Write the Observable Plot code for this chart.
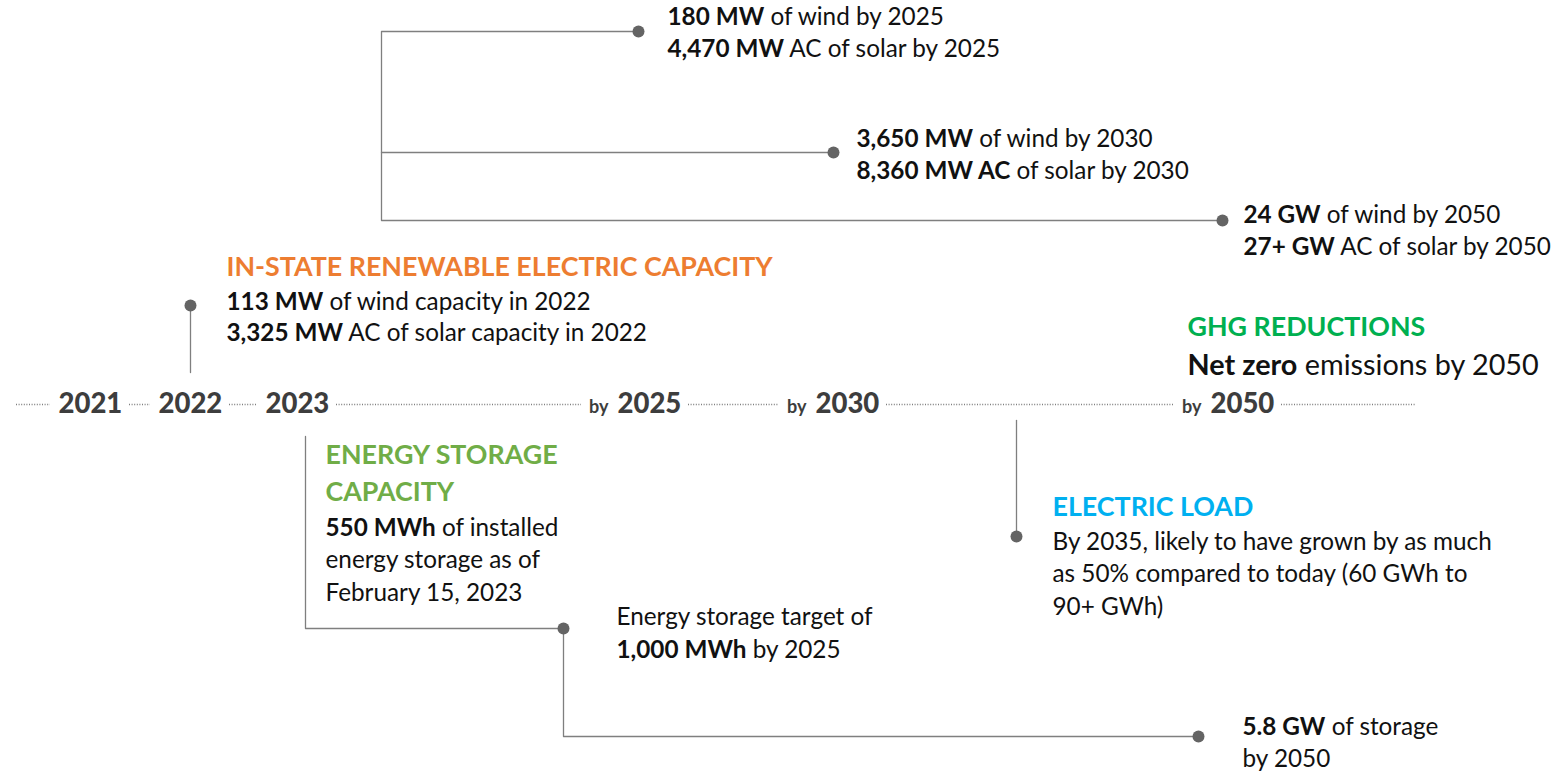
<!DOCTYPE html>
<html>
<head>
<meta charset="utf-8">
<script src="https://cdn.jsdelivr.net/npm/d3@7"></script>
<script src="https://cdn.jsdelivr.net/npm/@observablehq/plot@0.6"></script>
<style>
  html, body { margin: 0; padding: 0; background: #ffffff; }
  #chart { width: 1554px; height: 774px; }
</style>
</head>
<body>
<div id="chart"></div>
<script>
// ---------- content (data) ----------
// Timeline milestones
const years = ["2021", "2022", "2023", "2025", "2030", "2050"];
const yearPrefixes = ["", "", "", "by", "by", "by"];
const yearStarts = [58, 158, 265, 617, 815, 1210];   // position along the timeline (layout units)

// Section headings
const headingTexts = ["IN-STATE RENEWABLE ELECTRIC CAPACITY", "ENERGY STORAGE", "CAPACITY", "GHG REDUCTIONS", "ELECTRIC LOAD"];
const headingColors = ["#ED7D31", "#70AD47", "#70AD47", "#00B050", "#00B0F0"];
const headingX = [226, 325, 325, 1187, 1052];
const headingY = [267, 455, 492, 327, 507];

// Body lines (** marks bold runs)
const bodyTexts = [
  "**113 MW** of wind capacity in 2022",
  "**3,325 MW** AC of solar capacity in 2022",
  "**180 MW** of wind by 2025",
  "**4,470 MW** AC of solar by 2025",
  "**3,650 MW** of wind by 2030",
  "**8,360 MW AC** of solar by 2030",
  "**24 GW** of wind by 2050",
  "**27+ GW** AC of solar by 2050",
  "**550 MWh** of installed",
  "energy storage as of",
  "February 15, 2023",
  "Energy storage target of",
  "**1,000 MWh** by 2025",
  "**5.8 GW** of storage",
  "by 2050",
  "By 2035, likely to have grown by as much",
  "as 50% compared to today (60 GWh to",
  "90+ GWh)"
];
const bodyX = [226, 226, 667, 667, 856, 856, 1243, 1243, 325, 325, 325, 616, 616, 1242, 1242, 1052, 1052, 1052];
const bodyY = [302, 333, 17, 49, 139, 171, 215, 247, 528, 560, 593, 617, 650, 727, 759, 542, 574, 607];

const ghgText = "**Net zero** emissions by 2050";
const ghgX = 1187, ghgY = 365;

// Connector paths (milestone → callout), and the milestone dots at their ends
const connectorIds = ["wind2022", "cap2025", "cap2030", "stor2023", "stor2050", "load2035"];
const connectorXs = [[190, 190], [638, 381, 381, 1222], [381, 833], [305, 305, 563], [563, 563, 1198], [1016, 1016]];
const connectorYs = [[372, 305], [31, 31, 220, 220], [152, 152], [436, 628, 628], [628, 736, 736], [420, 536]];
const dotX = [190, 638, 833, 1222, 563, 1198, 1016];
const dotY = [305, 31, 152, 220, 628, 736, 536];

const timelineY = 404;
const timelineEnd = 1415;
const timelineStart = 16;

// ---------- build tables ----------
const yearLabels = years.map((t, i) => ({x: yearStarts[i], y: timelineY, t}));
const byLabels = years.map((t, i) => ({x: yearStarts[i] - 9, y: timelineY + 3, t: yearPrefixes[i]})).filter(d => d.t);
const yearW = 63, byW = 28, gap = 8;
const segs = [];
let prevEnd = timelineStart;
years.forEach((t, i) => {
  const start = yearStarts[i] - (yearPrefixes[i] ? byW : 0) - gap;
  segs.push({x1: prevEnd, x2: start, y: timelineY});
  prevEnd = yearStarts[i] + yearW + gap;
});
segs.push({x1: prevEnd, x2: timelineEnd, y: timelineY});

const headings = headingTexts.map((t, i) => ({t, c: headingColors[i], x: headingX[i], y: headingY[i]}));
const bodies = bodyTexts.map((t, i) => ({t, x: bodyX[i], y: bodyY[i]}));
const connectorPts = [];
connectorIds.forEach((id, k) => connectorXs[k].forEach((x, j) => connectorPts.push({id, x, y: connectorYs[k][j]})));
const dots = dotX.map((x, i) => ({x, y: dotY[i]}));

const FONT = "Lato, 'Open Sans', sans-serif";
const grey = "#7F7F7F";

const chart = Plot.plot({
  width: 1554,
  height: 774,
  margin: 0,
  x: {domain: [0, 1554], range: [0, 1554], axis: null},
  y: {domain: [0, 774], range: [0, 774], axis: null},
  color: {type: "identity"},
  style: {fontFamily: FONT, background: "#ffffff"},
  marks: [
    Plot.ruleY(segs, {x1: "x1", x2: "x2", y: "y", stroke: grey, strokeWidth: 1.5, strokeDasharray: "1,1.6"}),
    Plot.line(connectorPts, {x: "x", y: "y", z: "id", stroke: grey, strokeWidth: 1.3}),
    Plot.dot(dots, {x: "x", y: "y", r: 6, fill: "#646464", stroke: "none"}),
    Plot.text(yearLabels, {x: "x", y: "y", text: "t", textAnchor: "start", fontSize: 27.5, fontWeight: 900, fill: "#3d3d3d"}),
    Plot.text(byLabels, {x: "x", y: "y", text: "t", textAnchor: "end", fontSize: 18, fontWeight: "bold", fill: "#3d3d3d"}),
    Plot.text(headings, {x: "x", y: "y", text: "t", fill: "c", textAnchor: "start", fontSize: 26.8, fontWeight: "bold"}),
    Plot.text(bodies, {x: "x", y: "y", text: "t", textAnchor: "start", fontSize: 24.3, fill: "#111111"}),
    Plot.text([{x: ghgX, y: ghgY, t: ghgText}], {x: "x", y: "y", text: "t", textAnchor: "start", fontSize: 28.8, fill: "#111111"})
  ]
});

// convert **bold** markers into tspans
chart.querySelectorAll("text").forEach(el => {
  const targets = el.querySelector("tspan") ? Array.from(el.querySelectorAll("tspan")) : [el];
  targets.forEach(node => {
    const s = node.textContent;
    if (!s.includes("**")) return;
    const parts = s.split("**");
    node.textContent = "";
    parts.forEach((p, i) => {
      if (!p) return;
      const ts = document.createElementNS("http://www.w3.org/2000/svg", "tspan");
      ts.textContent = p;
      if (i % 2 === 1) ts.setAttribute("font-weight", "bold");
      node.appendChild(ts);
    });
  });
});

document.getElementById("chart").appendChild(chart);
</script>
</body>
</html>
